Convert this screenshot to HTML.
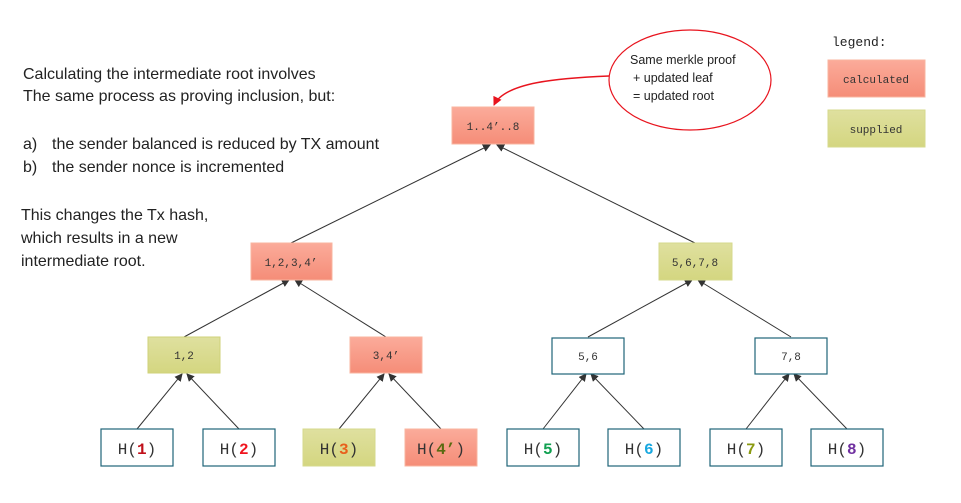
<!DOCTYPE html>
<html><head><meta charset="utf-8"><style>
body{margin:0;background:#fff;}
svg{display:block}
.t{font-family:"Liberation Sans",sans-serif;font-size:16px;fill:#222}
.m{font-family:"Liberation Mono",monospace;font-size:11px;fill:#333}
.h{font-family:"Liberation Mono",monospace;font-size:16px;fill:#333}
</style></head><body>
<svg width="961" height="503" viewBox="0 0 961 503" xmlns="http://www.w3.org/2000/svg">
<defs>
<linearGradient id="r" x1="0" y1="0" x2="0" y2="1"><stop offset="0" stop-color="#fbab9a"/><stop offset="1" stop-color="#f58d78"/></linearGradient>
<linearGradient id="g" x1="0" y1="0" x2="0" y2="1"><stop offset="0" stop-color="#dfe09f"/><stop offset="1" stop-color="#d4d680"/></linearGradient>
<marker id="a" markerWidth="8" markerHeight="8" refX="7" refY="4" orient="auto" markerUnits="userSpaceOnUse"><path d="M0,0 L8,4 L0,8 z" fill="#333"/></marker>
<marker id="ar" markerWidth="9" markerHeight="9" refX="8" refY="4.5" orient="auto" markerUnits="userSpaceOnUse"><path d="M0,0 L9,4.5 L0,9 z" fill="#e8141e"/></marker>
</defs>
<text class="t" x="23" y="79">Calculating the intermediate root involves</text>
<text class="t" x="23" y="101">The same process as proving inclusion, but:</text>
<text class="t" x="23" y="149">a)</text><text class="t" x="52" y="149">the sender balanced is reduced by TX amount</text>
<text class="t" x="23" y="172">b)</text><text class="t" x="52" y="172">the sender nonce is incremented</text>
<text class="t" x="21" y="220">This changes the Tx hash,</text>
<text class="t" x="21" y="243">which results in a new</text>
<text class="t" x="21" y="266">intermediate root.</text>

<g stroke="#333" stroke-width="1" fill="none" marker-end="url(#a)">
<line x1="291" y1="243" x2="490" y2="145"/>
<line x1="695" y1="243" x2="497" y2="145"/>
<line x1="184" y1="337" x2="289" y2="280"/>
<line x1="386" y1="337" x2="295" y2="280"/>
<line x1="588" y1="337" x2="692" y2="280"/>
<line x1="791" y1="337" x2="698" y2="280"/>
<line x1="137" y1="429" x2="182" y2="374"/>
<line x1="239" y1="429" x2="187" y2="374"/>
<line x1="339" y1="429" x2="384" y2="374"/>
<line x1="441" y1="429" x2="389" y2="374"/>
<line x1="543" y1="429" x2="586" y2="374"/>
<line x1="644" y1="429" x2="591" y2="374"/>
<line x1="746" y1="429" x2="789" y2="374"/>
<line x1="847" y1="429" x2="794" y2="374"/>
</g>

<ellipse cx="690" cy="80" rx="81" ry="50" fill="#fff" stroke="#e8141e" stroke-width="1.2"/>
<text class="t" style="font-size:12.5px" x="630" y="64">Same merkle proof</text>
<text class="t" style="font-size:12.5px" x="633" y="82">+ updated leaf</text>
<text class="t" style="font-size:12.5px" x="633" y="100">= updated root</text>
<path d="M609,76 C560,78 505,82 494,105" fill="none" stroke="#e8141e" stroke-width="1.5" marker-end="url(#ar)"/>

<rect x="452" y="107" width="82" height="37" fill="url(#r)" stroke="#f8b49f"/>
<text class="m" x="493" y="130" text-anchor="middle">1..4’..8</text>
<rect x="251" y="243" width="81" height="37" fill="url(#r)" stroke="#f8b49f"/>
<text class="m" x="291" y="266" text-anchor="middle">1,2,3,4’</text>
<rect x="659" y="243" width="73" height="37" fill="url(#g)" stroke="#d6d98c"/>
<text class="m" x="695" y="266" text-anchor="middle">5,6,7,8</text>
<rect x="148" y="337" width="72" height="36" fill="url(#g)" stroke="#cfd27a"/>
<text class="m" x="184" y="359" text-anchor="middle">1,2</text>
<rect x="350" y="337" width="72" height="36" fill="url(#r)" stroke="#f8b49f"/>
<text class="m" x="386" y="359" text-anchor="middle">3,4’</text>
<rect x="552" y="338" width="72" height="36" fill="#fff" stroke="#1f6478" stroke-width="1.2"/>
<text class="m" x="588" y="360" text-anchor="middle">5,6</text>
<rect x="755" y="338" width="72" height="36" fill="#fff" stroke="#1f6478" stroke-width="1.2"/>
<text class="m" x="791" y="360" text-anchor="middle">7,8</text>

<g stroke="#1f6478" stroke-width="1.2" fill="#fff">
<rect x="101" y="429" width="72" height="37"/>
<rect x="203" y="429" width="72" height="37"/>
<rect x="507" y="429" width="72" height="37"/>
<rect x="608" y="429" width="72" height="37"/>
<rect x="710" y="429" width="72" height="37"/>
<rect x="811" y="429" width="72" height="37"/>
</g>
<rect x="303" y="429" width="72" height="37" fill="url(#g)" stroke="#d6d98c"/>
<rect x="405" y="429" width="72" height="37" fill="url(#r)" stroke="#f8b49f"/>
<g class="h" text-anchor="middle" font-weight="normal">
<text class="h" x="137" y="454">H(<tspan fill="#c0101a" font-weight="bold">1</tspan>)</text>
<text class="h" x="239" y="454">H(<tspan fill="#f0141e" font-weight="bold">2</tspan>)</text>
<text class="h" x="339" y="454">H(<tspan fill="#e8601c" font-weight="bold">3</tspan>)</text>
<text class="h" x="441" y="454">H(<tspan fill="#5a6a10" font-weight="bold">4’</tspan>)</text>
<text class="h" x="543" y="454">H(<tspan fill="#10a050" font-weight="bold">5</tspan>)</text>
<text class="h" x="644" y="454">H(<tspan fill="#18a8e0" font-weight="bold">6</tspan>)</text>
<text class="h" x="746" y="454">H(<tspan fill="#8a9a10" font-weight="bold">7</tspan>)</text>
<text class="h" x="847" y="454">H(<tspan fill="#7030a0" font-weight="bold">8</tspan>)</text>
</g>

<text class="m" style="font-size:13px;fill:#222" x="832" y="46">legend:</text>
<rect x="828" y="60" width="97" height="37" fill="url(#r)" stroke="#f8b49f"/>
<text class="m" x="876" y="83" text-anchor="middle">calculated</text>
<rect x="828" y="110" width="97" height="37" fill="url(#g)" stroke="#d6d98c"/>
<text class="m" x="876" y="133" text-anchor="middle">supplied</text>
</svg>
</body></html>
